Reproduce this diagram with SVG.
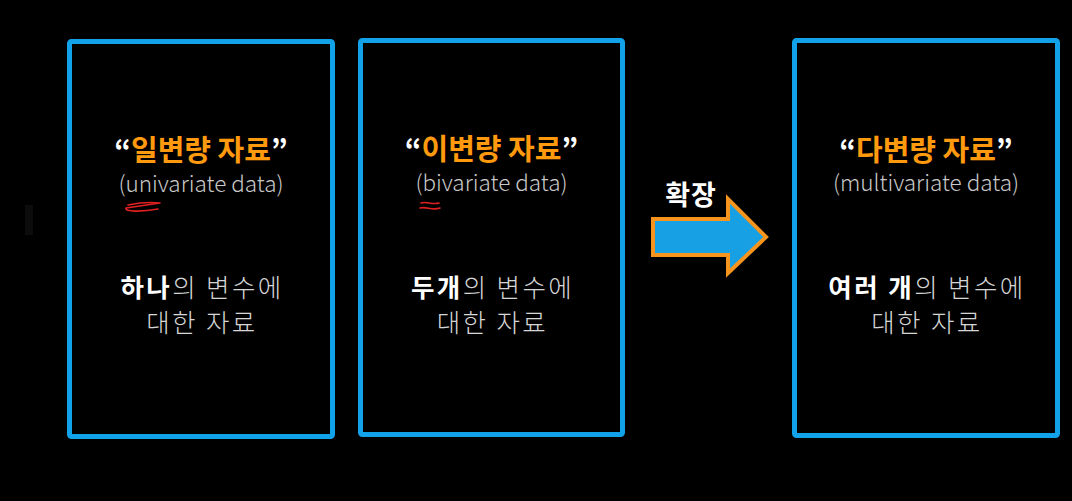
<svg xmlns="http://www.w3.org/2000/svg" width="1072" height="501" viewBox="0 0 1072 501">
<style>
.box{fill:#000;stroke:#12a2ea;stroke-width:5}
.t{font-family:"Noto Sans CJK KR","Noto Sans",sans-serif;text-anchor:middle}
.title{font-size:29px;font-weight:700;fill:#ff9a0e}
.q{fill:#ffffff}
.sub{font-size:22.5px;fill:#c9c9c9;font-weight:300}
.body{font-size:25.5px;fill:#d6d6d6;font-weight:300;letter-spacing:2.4px}
.b{font-weight:700;fill:#ffffff}
.sq{fill:none;stroke:#e02020;stroke-width:1.6;stroke-linecap:round;stroke-linejoin:round}
</style>
<rect width="1072" height="501" fill="#000"/>
<rect x="25" y="205" width="8" height="30" fill="#0c0c0c"/>
<g id="node-univariate">
<rect class="box" x="69.5" y="41.5" width="263" height="395" rx="2"/>
<text class="t title" x="201" y="161"><tspan class="q">“</tspan>일변량 자료<tspan class="q">”</tspan></text>
<text class="t sub" x="201" y="192">(univariate data)</text>
<path class="sq" d="M128 205 C138 203,150 202,160 203 L126 208 C124 212,142 212,158 209"/>
<text class="t body" x="202" y="297"><tspan class="b">하나</tspan>의 변수에</text>
<text class="t body" x="202" y="332">대한 자료</text>
</g>
<g id="node-bivariate">
<rect class="box" x="360.5" y="40.5" width="262" height="394" rx="2"/>
<text class="t title" x="491.5" y="160"><tspan class="q">“</tspan>이변량 자료<tspan class="q">”</tspan></text>
<text class="t sub" x="491.5" y="191">(bivariate data)</text>
<path class="sq" d="M421 203 C426 201,432 205,439 203 M420 208 C426 206,432 211,440 208"/>
<text class="t body" x="492.5" y="297"><tspan class="b">두개</tspan>의 변수에</text>
<text class="t body" x="492.5" y="332">대한 자료</text>
</g>
<g id="node-multivariate">
<rect class="box" x="794.5" y="40.5" width="263" height="395" rx="2"/>
<text class="t title" x="926" y="161"><tspan class="q">“</tspan>다변량 자료<tspan class="q">”</tspan></text>
<text class="t sub" x="926" y="191">(multivariate data)</text>
<text class="t body" x="927" y="297"><tspan class="b">여러 개</tspan>의 변수에</text>
<text class="t body" x="927" y="332">대한 자료</text>
</g>
<g id="connectors">
<path d="M653 219 L728 219 L728 199 L766 237 L728 273 L728 255 L653 255 Z" fill="#17a0e4" stroke="#f7941d" stroke-width="4" stroke-linejoin="miter"/>
<text class="t" x="691" y="205" font-size="27" font-weight="700" fill="#ffffff" letter-spacing="1">확장</text>
</g>
</svg>
